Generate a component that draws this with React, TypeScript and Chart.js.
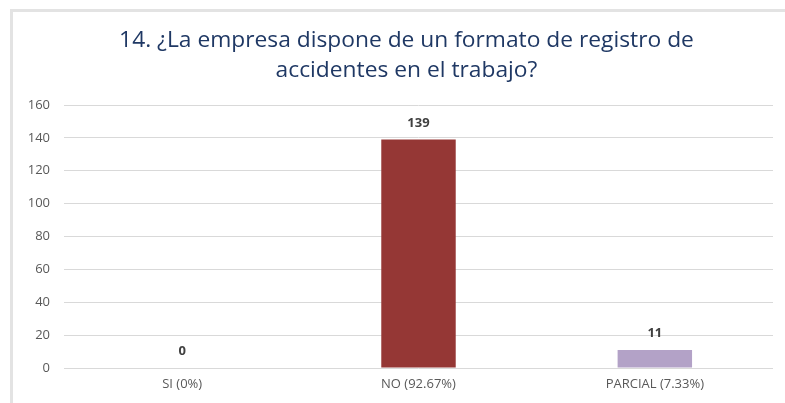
import React, { useEffect, useRef } from "react";
import { Chart, registerables } from "chart.js";

Chart.register(...registerables);

const categories = ["SI (0%)", "NO (92.67%)", "PARCIAL (7.33%)"];
const values = [0, 139, 11];
const barColors = ["#4F81BD", "#953735", "#B3A2C7"];
const titleLines = ["14. ¿La empresa dispone de un formato de registro de", "accidentes en el trabajo?"];
const yMin = 0;
const yMax = 160;
const yStep = 20;

const FONT = "'Open Sans', sans-serif";

const valueLabels = {
  id: "valueLabels",
  afterDatasetsDraw(chart: any) {
    const { ctx } = chart;
    const meta = chart.getDatasetMeta(0);
    ctx.save();
    ctx.font = `bold 13px ${FONT}`;
    ctx.fillStyle = "#404040";
    ctx.textAlign = "center";
    ctx.textBaseline = "bottom";
    meta.data.forEach((bar: any, i: number) => {
      ctx.fillText(String(values[i]), bar.x, bar.y - 10);
    });
    ctx.restore();
  },
};

const titlePlugin = {
  id: "customTitle",
  afterDraw(chart: any) {
    const { ctx } = chart;
    ctx.save();
    ctx.font = `21px ${FONT}`;
    ctx.fillStyle = "#1F3864";
    ctx.textAlign = "center";
    ctx.textBaseline = "alphabetic";
    const cx = chart.width / 2 + 14;
    const sx = 1.085;
    ctx.translate(cx, 0);
    ctx.scale(sx, 1);
    titleLines.forEach((line, i) => {
      ctx.fillText(line, 0, 47 + i * 30);
    });
    ctx.restore();
  },
};

export default function App() {
  const ref = useRef<HTMLCanvasElement>(null);
  useEffect(() => {
    const chart = new Chart(ref.current!, {
      type: "bar",
      data: {
        labels: categories,
        datasets: [
          {
            data: values,
            backgroundColor: barColors,
            categoryPercentage: 1,
            barPercentage: 0.315,
          },
        ],
      },
      options: {
        animation: false,
        responsive: false,
        maintainAspectRatio: false,
        layout: { padding: { left: 0, right: 12, top: 105, bottom: 0 } },
        plugins: {
          legend: { display: false },
          tooltip: { enabled: false },
          title: { display: false },
        },
        scales: {
          x: {
            grid: { display: false, drawTicks: false },
            border: { display: false },
            ticks: { color: "#595959", font: { family: FONT, size: 13 }, padding: 8 },
            afterFit: (s: any) => {
              s.height = 35;
            },
          },
          y: {
            min: yMin,
            max: yMax,
            ticks: {
              stepSize: yStep,
              color: "#595959",
              font: { family: FONT, size: 13 },
              padding: 14,
            },
            grid: { color: "#d9d9d9", lineWidth: 1, drawTicks: false },
            border: { display: false },
            afterFit: (s: any) => {
              s.width = 64;
            },
          },
        },
      },
      plugins: [valueLabels, titlePlugin],
    });
    return () => chart.destroy();
  }, []);
  return (
    <div style={{ position: "fixed", left: 0, top: 0, width: 785, height: 403, background: "#fff", overflow: "hidden" }}>
      <canvas ref={ref} width={785} height={403} style={{ position: "absolute", left: 0, top: 0 }} />
      <div style={{ position: "absolute", left: 10, top: 9, right: 0, height: 3, background: "#e3e3e3" }} />
      <div style={{ position: "absolute", left: 10, top: 9, bottom: 0, width: 3, background: "#e3e3e3" }} />
    </div>
  );
}
